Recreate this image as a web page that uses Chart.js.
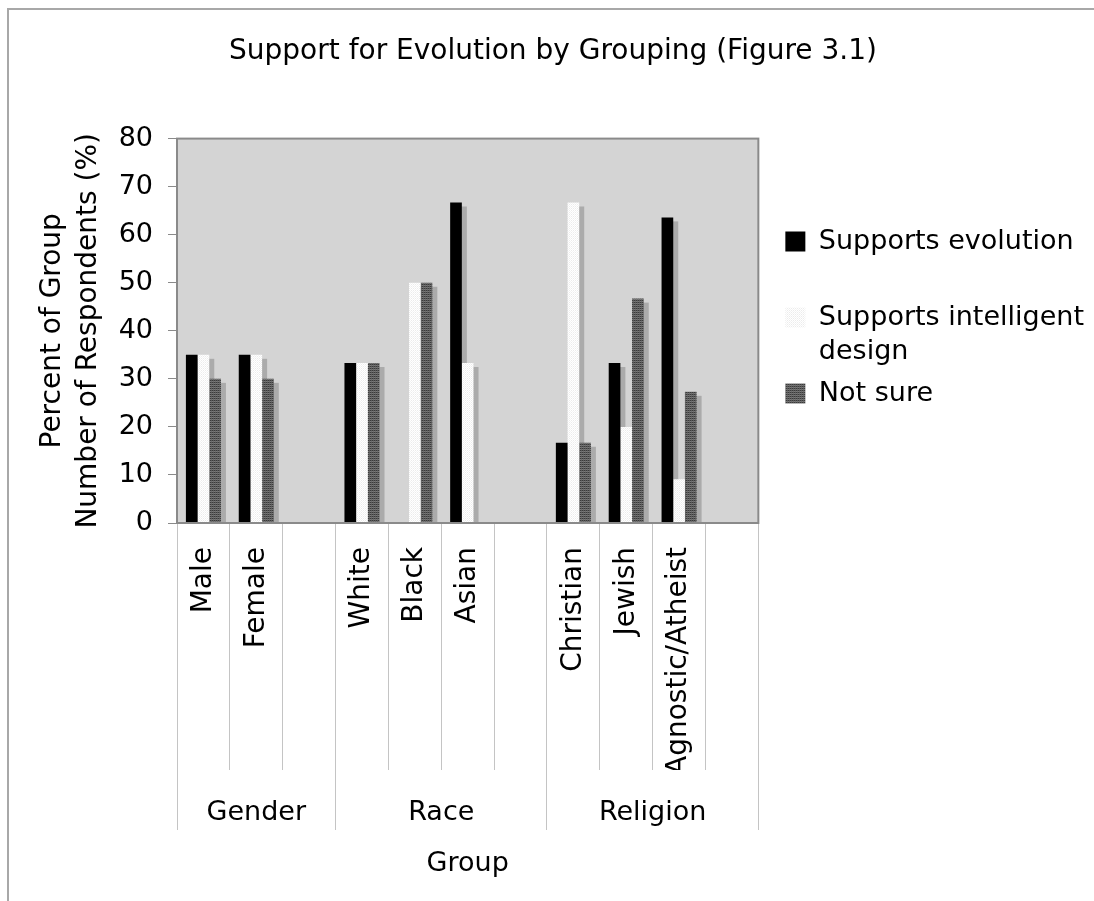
<!DOCTYPE html>
<html>
<head>
<meta charset="utf-8">
<script src="https://cdn.jsdelivr.net/npm/chart.js@4/dist/chart.umd.min.js"></script>
<style>
  html, body { margin: 0; padding: 0; background: #fff; }
  #wrap { position: relative; width: 1094px; height: 901px; overflow: hidden; }
  #marco { position: absolute; left: 7px; top: 8px; width: 1200px; height: 1000px;
           border-left: 2px solid #a8a8a8; border-top: 2px solid #a8a8a8; pointer-events: none; }
</style>
</head>
<body>
<div id="wrap">
  <canvas id="grafico" width="1094" height="901"></canvas>
  <div id="marco"></div>
</div>
<script>
// datos (porcentaje de cada grupo)
const categorias = ['Male', 'Female', '', 'White', 'Black', 'Asian', '', 'Christian', 'Jewish', 'Agnostic/Atheist', ''];
const grupos = ['Gender', 'Race', 'Religion'];
const tamanoGrupos = [3, 4, 4];
const series = ['Supports evolution', 'Supports intelligent design', 'Not sure'];
const textoLeyenda = [['Supports evolution', ''], ['Supports intelligent', 'design'], 'Not sure'];
const apoyaEvolucion = [35, 35, null, 33.3, 0, 66.7, null, 16.7, 33.3, 63.6, null];
const apoyaDiseno = [35, 35, null, 33.3, 50, 33.3, null, 66.7, 20, 9.1, null];
const noSeguro = [30, 30, null, 33.3, 50, 0, null, 16.7, 46.7, 27.3, null];
const marcasY = [0, 10, 20, 30, 40, 50, 60, 70, 80];

// limites y centros de cada grupo en unidades de categoria
const limites = [-0.5];
const centros = [];
tamanoGrupos.forEach(n => {
  const ini = limites[limites.length - 1];
  centros.push(ini + n / 2);
  limites.push(ini + n);
});

const trama = (w, h, pixeles) => {
  const c = document.createElement('canvas');
  c.width = w; c.height = h;
  const g = c.getContext('2d');
  pixeles.forEach((fila, y) => fila.forEach((col, x) => { g.fillStyle = col; g.fillRect(x, y, 1, 1); }));
  return g.createPattern(c, 'repeat');
};

const tramaBlanca = trama(2, 2, [['#ffffff', '#ececec'], ['#f4f4f4', '#ffffff']]);
const tramaGris = trama(2, 2, [['#3a3a3a', '#5a5a5a'], ['#7a7a7a', '#6a6a6a']]);

const fondoArea = {
  id: 'fondoArea',
  beforeDraw(chart) {
    const {ctx, chartArea: a} = chart;
    ctx.save();
    ctx.fillStyle = '#d4d4d4';
    ctx.fillRect(a.left, a.top, a.right - a.left, a.bottom - a.top);
    ctx.restore();
  },
  beforeDatasetsDraw(chart) {
    // sombra gris de cada barra, desplazada abajo a la derecha
    const {ctx, chartArea: a} = chart;
    ctx.save();
    ctx.beginPath();
    ctx.rect(a.left, a.top, a.right - a.left, a.bottom - a.top);
    ctx.clip();
    ctx.fillStyle = '#ababab';
    chart.data.datasets.forEach((ds, i) => {
      chart.getDatasetMeta(i).data.forEach(el => {
        if (el.skip || el.y == null || isNaN(el.y)) return;
        const alto = el.base - el.y;
        if (alto <= 4) return;
        ctx.fillRect(el.x - el.width / 2 + 5, el.y + 4, el.width, alto - 4);
      });
    });
    ctx.restore();
  },
  afterDatasetsDraw(chart) {
    const {ctx, chartArea: a} = chart;
    ctx.save();
    ctx.strokeStyle = '#8a8a8a';
    ctx.lineWidth = 2;
    ctx.strokeRect(a.left, a.top, a.right - a.left, a.bottom - a.top);
    ctx.restore();
  }
};

Chart.defaults.font.family = "'DejaVu Sans', Verdana, sans-serif";
Chart.defaults.color = '#000';

const config = {
  type: 'bar',
  data: {
    labels: categorias,
    datasets: [
      { label: series[0], data: apoyaEvolucion, backgroundColor: '#000000', borderWidth: 0 },
      { label: series[1], data: apoyaDiseno, backgroundColor: tramaBlanca, borderWidth: 0 },
      { label: series[2], data: noSeguro, backgroundColor: tramaGris, borderWidth: 0 }
    ]
  },
  options: {
    responsive: false,
    animation: false,
    categoryPercentage: 0.663,
    barPercentage: 1,
    layout: { padding: { left: 12, right: 0, top: 10, bottom: 10 } },
    scales: {
      x: {
        offset: true,
        grid: { offset: true, drawOnChartArea: false, drawTicks: true, tickLength: 247, color: '#c4c4c4', lineWidth: 1 },
        border: { display: false },
        ticks: { minRotation: 90, maxRotation: 90, autoSkip: false, padding: -223, font: { size: 28 } },
        afterFit: s => { s.height = 247; }
      },
      x2: {
        type: 'linear',
        position: 'bottom',
        offset: false,
        min: -0.5,
        max: 10.5,
        afterBuildTicks: s => {
          s.ticks = limites.concat(centros).sort((a, b) => a - b).map(v => ({ value: v }));
        },
        grid: {
          offset: false, drawOnChartArea: false, drawTicks: true, tickLength: 60, lineWidth: 1,
          color: c => (c.tick && limites.includes(c.tick.value)) ? '#c4c4c4' : 'rgba(0,0,0,0)'
        },
        border: { display: false },
        ticks: {
          autoSkip: false, maxRotation: 0, padding: -33, font: { size: 27 },
          callback: v => { const k = centros.indexOf(v); return k >= 0 ? grupos[k] : ''; }
        },
        title: { display: true, text: 'Group', font: { size: 27 }, padding: { top: 0, bottom: 11 } },
        afterFit: s => { s.height = 121; }
      },
      y: {
        min: 0,
        max: 80,
        afterBuildTicks: s => { s.ticks = marcasY.map(v => ({ value: v })); },
        grid: { drawOnChartArea: false, drawTicks: true, tickLength: 9, color: '#8a8a8a' },
        border: { display: false },
        ticks: { padding: 15, font: { size: 27 } },
        title: {
          display: true,
          text: ['Percent of Group', 'Number of Respondents (%)'],
          font: { size: 28, lineHeight: 1.29 },
          padding: { top: 23, bottom: 0 }
        },
        afterFit: s => { s.width = 165; }
      },
      yR: {
        type: 'linear',
        position: 'right',
        min: 0,
        max: 1,
        grid: { display: false },
        border: { display: false },
        ticks: { display: false },
        afterFit: s => { s.width = 19; }
      }
    },
    plugins: {
      title: {
        display: true,
        text: 'Support for Evolution by Grouping (Figure 3.1)',
        font: { size: 28, weight: 'normal', lineHeight: 1.2 },
        color: '#000',
        padding: { top: 25, bottom: 70 }
      },
      legend: {
        position: 'right',
        align: 'start',
        maxWidth: 420,
        title: { display: true, text: ' ', font: { size: 10, lineHeight: 1.2 }, padding: { top: 198, bottom: 0 } },
        labels: {
          boxWidth: 20,
          boxHeight: 20,
          padding: 8,
          font: { size: 27, lineHeight: 1.26 },
          generateLabels: chart => {
            const items = Chart.defaults.plugins.legend.labels.generateLabels(chart);
            items.forEach((it, i) => { it.text = textoLeyenda[i]; it.lineWidth = 0; });
            return items;
          }
        }
      },
      tooltip: { enabled: false }
    }
  },
  plugins: [fondoArea]
};

const grafico = new Chart(document.getElementById('grafico'), config);
</script>
</body>
</html>
